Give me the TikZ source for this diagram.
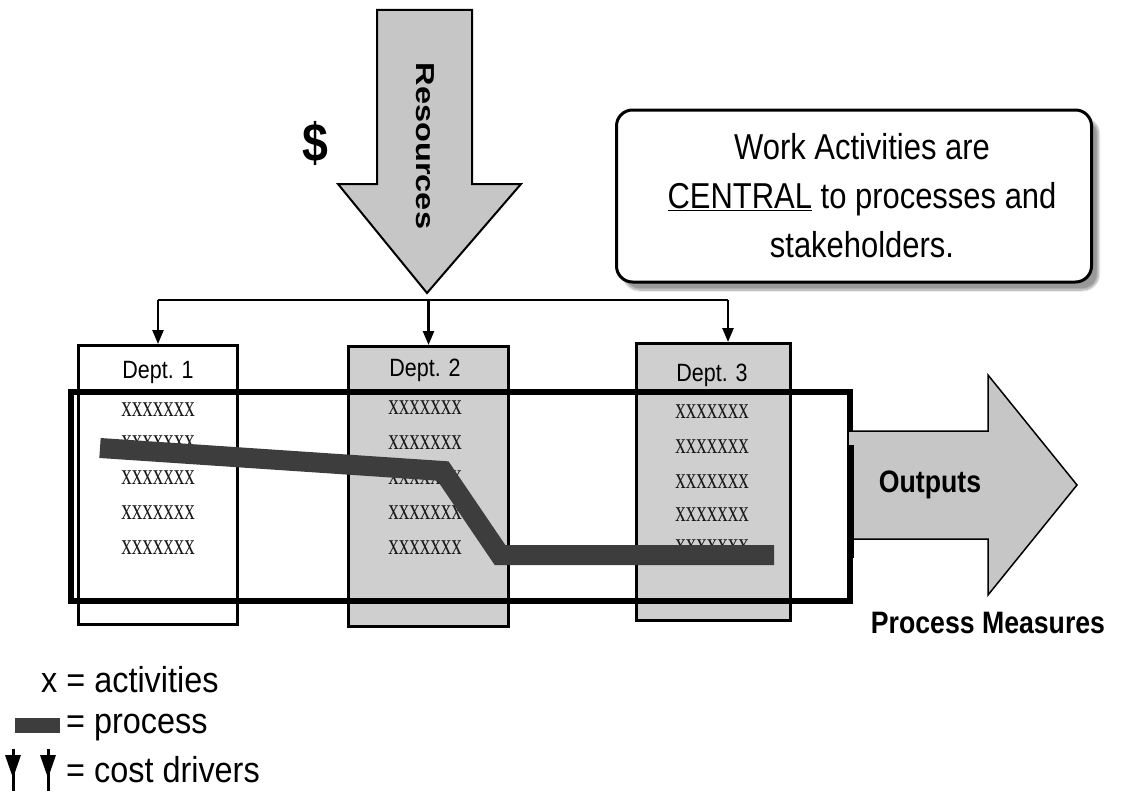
\documentclass[tikz,border=0pt]{standalone}
\usepackage{fontspec}
\setmainfont{Liberation Sans}[FakeStretch=0.86]
\newfontfamily\xfont{Liberation Serif}[FakeStretch=0.7]
\newfontfamily\resfont{Liberation Sans}[FakeStretch=1.25]
\newfontfamily\legfont{Liberation Sans}[FakeStretch=0.9]
\usetikzlibrary{arrows.meta,shadows.blur}
\definecolor{boxgray}{HTML}{CFCFCF}
\definecolor{arrgray}{HTML}{C6C6C6}
\definecolor{procgray}{HTML}{3D3D3D}
\tikzset{
  dept/.style={draw=black, line width=3pt, inner sep=0pt, anchor=north west},
  deptlabel/.style={font=\fontsize{25}{30}\selectfont, inner sep=0pt},
  xx/.style={font=\xfont\fontsize{30}{30}\selectfont, text=black!90, inner sep=0pt},
  process/.style={line width=20pt, draw=procgray, line cap=butt, line join=miter},
  busline/.style={line width=2.5pt, draw=black},
  cd/.style={line width=2.5pt, draw=black, -{Triangle[length=14pt,width=11pt]}},
  bigarrow/.style={fill=arrgray, draw=black, line width=2pt, line join=miter},
  boldlabel/.style={font=\bfseries\fontsize{31}{36}\selectfont, inner sep=0pt},
  legend/.style={font=\legfont\fontsize{36}{40}\selectfont, inner sep=0pt, anchor=base west},
}
\begin{document}
\begin{tikzpicture}[x=1pt,y=-1pt]
\useasboundingbox (0,0) rectangle (1140,792);

% Resources arrow
\draw[bigarrow] (377,10) -- (472,10) -- (472,184) -- (521,184) -- (427,293) -- (338,184) -- (377,184) -- cycle;
\node[font=\resfont\bfseries\fontsize{26}{30}\selectfont, rotate=-90, inner sep=0pt] (res) at (425,146) {Resources};
\node[font=\bfseries\fontsize{54}{60}\selectfont, inner sep=0pt] (dollar) at (315,143) {\$};

% Text box
\node[draw=black, line width=3pt, rounded corners=16pt, fill=white,
      minimum width=475pt, minimum height=172pt, align=center,
      font=\fontsize{36}{49}\selectfont,
      blur shadow={shadow xshift=7pt, shadow yshift=-8pt, shadow blur steps=12, shadow blur extra rounding=6pt}]
  (note) at (854,196) {\hspace*{16pt}Work Activities are\\\hspace*{16pt}\underline{CENTRAL} to processes and\\\hspace*{16pt}stakeholders.};

% Departments
\node[dept, fill=white, minimum width=159pt, minimum height=279pt] (d1) at (77,344) {};
\node[dept, fill=boxgray, minimum width=160pt, minimum height=280pt] (d2) at (347,345) {};
\node[dept, fill=boxgray, minimum width=154pt, minimum height=277pt] (d3) at (635,342) {};

\node[deptlabel] (l1) at (158,372) {Dept. 1};
\node[deptlabel] (l2) at (425,370) {Dept. 2};
\node[deptlabel] (l3) at (712,375) {Dept. 3};

\foreach \y [count=\i] in {410,443,478,513,548} \node[xx] (xa\i) at (158,\y) {xxxxxxx};
\foreach \y [count=\i] in {408,443,478,513,548} \node[xx] (xb\i) at (425,\y) {xxxxxxx};
\foreach \y [count=\i] in {412,447,482,515,547} \node[xx] (xc\i) at (712,\y) {xxxxxxx};

% Process boundary
\node[draw=black, line width=6pt, minimum width=779pt, minimum height=209pt, anchor=north west, inner sep=0pt] (pbox) at (68,389) {};

% Process line
\coordinate (p1) at (100,448);
\coordinate (p2) at (443,471);
\coordinate (p3) at (500,555);
\coordinate (p4) at (774,555);
\draw[process] (p1) -- (p2) -- (p3) -- (p4);

% Outputs arrow
\draw[bigarrow, line width=1.5pt] (849,431) -- (988,431) -- (988,375) -- (1077,485) -- (988,595) -- (988,539) -- (849,539);
\draw[line width=6pt] (851,445) -- (851,558);
\node[boldlabel] (out) at (930,485) {Outputs};
\node[boldlabel] (pm) at (988,623) {Process Measures};

% Cost driver connectors
\coordinate (busy) at (0,300);
\coordinate (b1) at (d1.north |- busy);
\coordinate (b2) at (d2.north |- busy);
\coordinate (b3) at (728,300);
\draw[busline] (b1) -- (b3);
\draw[cd] (b1) -- (d1.north);
\draw[cd] (b2) -- (d2.north);
\draw[cd] (b3) -- (b3 |- d3.north);

% Legend
\node[legend] (lg1) at (41,692) {x = activities};
\fill[procgray] (15,718) rectangle (60,733);
\node[legend] (lg2) at (66,733) {= process};
\foreach \x in {13,48} {
  \draw[line width=3pt] (\x,749) -- (\x,791);
  \fill (\x-8,755) -- (\x+8,755) -- (\x,778) -- cycle;
}
\node[legend] (lg3) at (66,782) {= cost drivers};
\end{tikzpicture}
\end{document}
